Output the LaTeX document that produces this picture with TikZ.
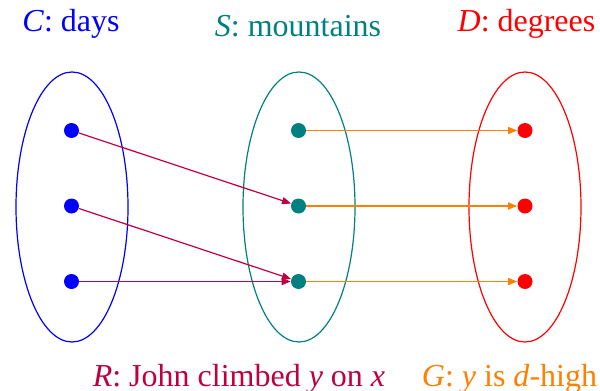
\documentclass[tikz,border=0pt]{standalone}
\usepackage{fontspec}
\setmainfont{Liberation Serif}
\usetikzlibrary{shapes.geometric,arrows.meta}
\definecolor{dayblue}{RGB}{0,0,255}
\definecolor{mountteal}{RGB}{0,128,128}
\definecolor{degred}{RGB}{255,0,0}
\definecolor{climbrel}{RGB}{191,0,64}
\definecolor{highrel}{RGB}{255,128,0}

\begin{document}
\begin{tikzpicture}[
    x=0.5pt, y=-0.5pt,
    setbox/.style={ellipse, draw, line width=0.6pt, minimum width=56pt, minimum height=135pt, inner sep=0pt},
    elem/.style={circle, inner sep=0pt, minimum size=7.5pt},
    lbl/.style={anchor=base, inner sep=0pt, font=\fontsize{16}{19}\selectfont},
    rel/.style={-{Triangle[length=4.5pt, width=3.6pt]}, line width=0.6pt}
]
\useasboundingbox (0,0) rectangle (600,391);
% the three sets
\node[setbox, draw=dayblue] (setC) at (72,207) {};
\node[setbox, draw=mountteal] (setS) at (299,207) {};
\node[setbox, draw=degred] (setD) at (525,207) {};
\node[lbl, dayblue] (lblC) at (71,31.5) {\textit{C}: days};
\node[lbl, mountteal] (lblS) at (298,36.5) {\textit{S}: mountains};
\node[lbl, degred] (lblD) at (526.5,31.5) {\textit{D}: degrees};
% elements
\node[elem, fill=dayblue] (c1) at (71.5,130.5) {};
\node[elem, fill=dayblue] (c2) at (71.5,206) {};
\node[elem, fill=dayblue] (c3) at (71.5,281.5) {};
\node[elem, fill=mountteal] (s1) at (298.5,130.5) {};
\node[elem, fill=mountteal] (s2) at (298.5,206) {};
\node[elem, fill=mountteal] (s3) at (298.5,281.5) {};
\node[elem, fill=degred] (d1) at (525,130.5) {};
\node[elem, fill=degred] (d2) at (525,206) {};
\node[elem, fill=degred] (d3) at (525,281.5) {};
% relations
\draw[rel, climbrel] (c1) -- (s2);
\draw[rel, climbrel] (c2) -- (s3);
\draw[rel, climbrel] (c3) -- (s3);
\draw[rel, highrel] (s1) -- (d1);
\draw[rel, highrel] (s2) -- (d2);
\draw[rel, highrel] (s3) -- (d3);
\node[lbl, climbrel] (lblR) at (239,386) {\textit{R}: John climbed \textit{y} on \textit{x}};
\node[lbl, highrel] (lblG) at (509.5,386) {\textit{G}: \textit{y} is \textit{d}-high};
\end{tikzpicture}
\end{document}
